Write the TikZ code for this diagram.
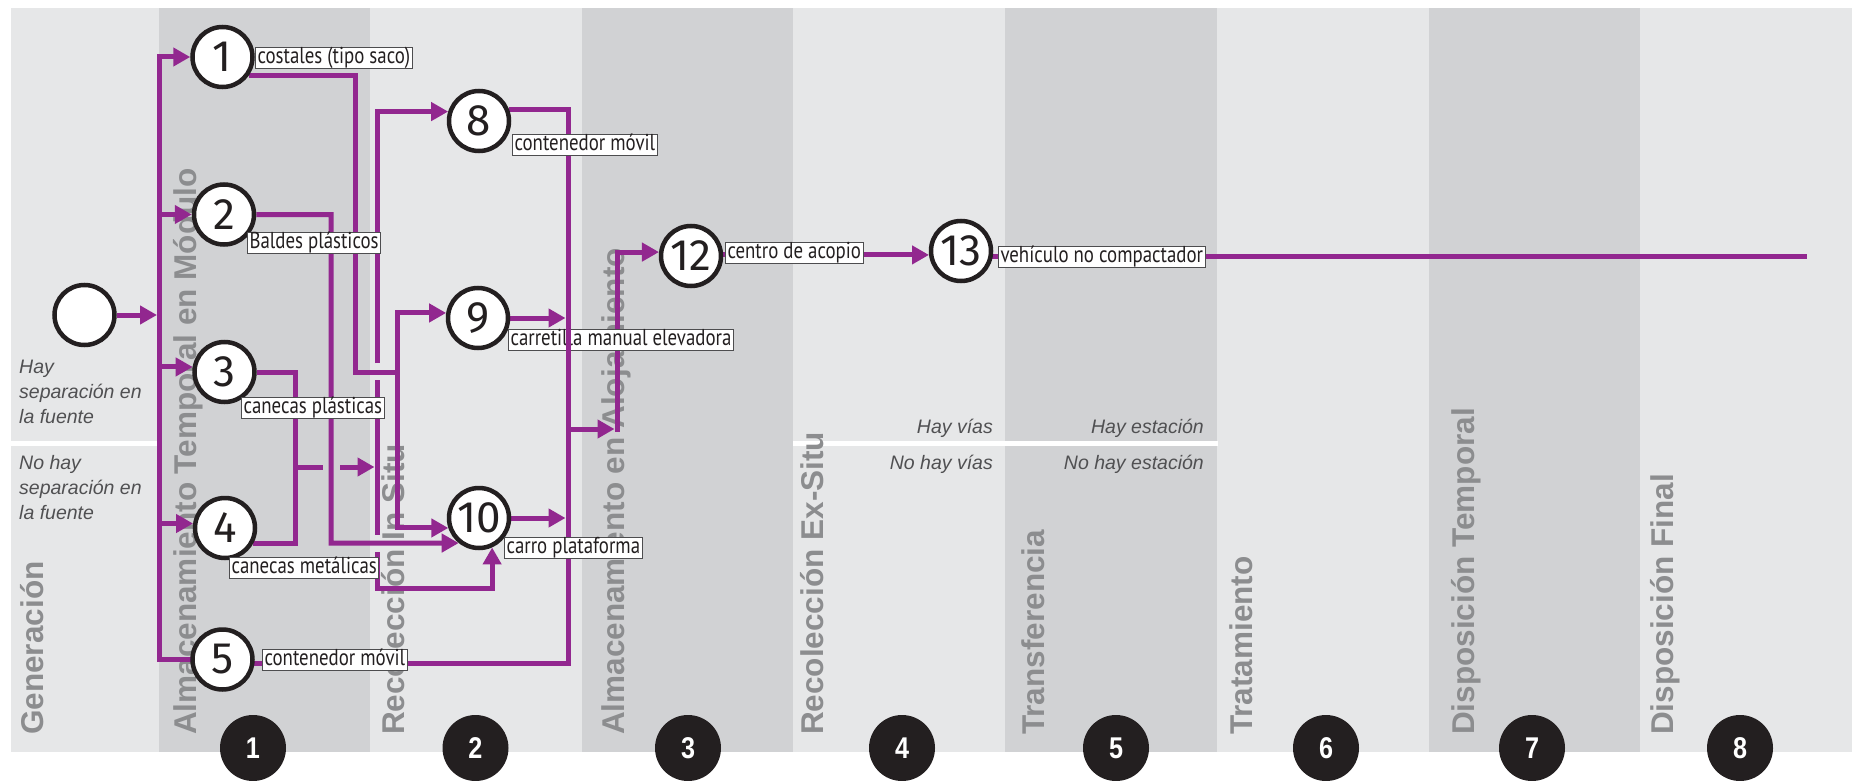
\documentclass[tikz,border=0pt]{standalone}
\usepackage{fontspec}
\setmainfont{Liberation Sans}
\newfontfamily\tagfont{PT Sans}[FakeStretch=0.82]
\newfontfamily\numfont{Fira Sans}
\newfontfamily\badgefont{Liberation Sans}[FakeStretch=0.84]
\usetikzlibrary{arrows.meta}

\definecolor{purp}{HTML}{92278F}
\definecolor{bglight}{HTML}{E6E7E8}
\definecolor{bgdark}{HTML}{D1D2D4}
\definecolor{colgray}{HTML}{8C8D8F}
\definecolor{annot}{HTML}{505052}
\definecolor{ink}{HTML}{231F20}
\definecolor{tagline}{HTML}{4D4D4F}

\pgfdeclarelayer{back}
\pgfdeclarelayer{wires}
\pgfdeclarelayer{tags}
\pgfdeclarelayer{over}
\pgfsetlayers{back,wires,main,tags,over}

\tikzset{
  flow/.style={draw=purp, line width=5pt},
  arr/.style={flow, -{Triangle[length=17pt,width=18pt]}},
  stage/.style={circle, draw=ink, fill=white, line width=4.5pt, minimum size=60pt,
    inner sep=0pt, text=ink, font=\numfont\fontsize{44}{44}\selectfont},
  tag/.style={draw=tagline, fill=white, line width=1pt, inner xsep=2pt, inner ysep=1pt,
    anchor=west, text height=15pt, text depth=4pt, text=ink,
    font=\tagfont\fontsize{23}{23}\selectfont},
  phase/.style={rotate=90, anchor=base west, inner sep=0pt, text=colgray,
    font=\fontsize{31.5}{31.5}\selectfont\bfseries},
  note/.style={inner sep=0pt, text=annot, font=\fontsize{19.5}{19.5}\selectfont\itshape},
  badge/.style={circle, fill=ink, minimum size=66pt, inner sep=0pt, text=white,
    font=\badgefont\bfseries\fontsize{30}{30}\selectfont},
}

\begin{document}
\begin{tikzpicture}[x=1pt, y=-1pt]
\useasboundingbox (0,0) rectangle (1857,781);

% ---------- stage columns ----------
\begin{pgfonlayer}{back}
\foreach \a/\b/\c in {11/159/bglight, 159/370/bgdark, 370/582/bglight, 582/793/bgdark,
                      793/1005/bglight, 1005/1217/bgdark, 1217/1429/bglight,
                      1429/1640/bgdark, 1640/1852/bglight}
  \fill[\c] (\a,8) rectangle (\b,752);
% split lines between the two cases
\fill[white] (11,440.5) rectangle (157,445.5);
\fill[white] (793,440.5) rectangle (1218,445.5);

% column titles
\node[phase] (p0) at (43,735)   {Generación};
\node[phase] (p1) at (196,735)  {Almacenamiento Temporal en Módulo};
\node[phase] (p2) at (404,735)  {Recolección In Situ};
\node[phase] (p3) at (624,735)  {Almacenamiento en Alojamiento};
\node[phase] (p4) at (823,735)  {Recolección Ex-Situ};
\node[phase] (p5) at (1044,735) {Transferencia};
\node[phase] (p6) at (1252,735) {Tratamiento};
\node[phase] (p7) at (1474,735) {Disposición Temporal};
\node[phase] (p8) at (1673,735) {Disposición Final};

% case notes
\node[note, anchor=base west] (h1) at (19,373) {Hay};
\node[note, anchor=base west] (h2) at (19,398) {separación en};
\node[note, anchor=base west] (h3) at (19,423) {la fuente};
\node[note, anchor=base west] (k1) at (19,469) {No hay};
\node[note, anchor=base west] (k2) at (19,494) {separación en};
\node[note, anchor=base west] (k3) at (19,519) {la fuente};
\node[note, anchor=base east] (v1) at (993,433)  {Hay vías};
\node[note, anchor=base east] (v2) at (993,469)  {No hay vías};
\node[note, anchor=base east] (s1) at (1204,433) {Hay estación};
\node[note, anchor=base east] (s2) at (1204,469) {No hay estación};
\end{pgfonlayer}

% ---------- stages ----------
\node[stage] (n0)  at (84.5,315) {};
\node[stage] (n1)  at (222.5,57) {1};
\node[stage] (n2)  at (224,214.5) {2};
\node[stage] (n3)  at (224.5,372) {3};
\node[stage] (n4)  at (225,528) {4};
\node[stage] (n5)  at (222.5,659.5) {5};
\node[stage] (n8)  at (479,121) {8};
\node[stage] (n9)  at (478,318) {9};
\node[stage] (n10) at (479,518) {10};
\node[stage] (n12) at (691,256) {12};
\node[stage] (n13) at (961,251) {13};

% phase numbers
\foreach \x/\k in {253/1, 475.5/2, 688/3, 902/4, 1116/5, 1326/6, 1532/7, 1740/8}
  \node[badge] (b\k) at (\x,748) {\k};

% ---------- equipment tags ----------
\begin{pgfonlayer}{tags}
\node[tag] (t1)  at (255,58.5)  {costales (tipo saco)};
\node[tag] (t2)  at (247,243)   {Baldes plásticos};
\node[tag] (t3)  at (241,407.5) {canecas plásticas};
\node[tag] (t4)  at (229,567.5) {canecas metálicas};
\node[tag] (t5)  at (262,659.5) {contenedor móvil};
\node[tag] (t8)  at (512,145)   {contenedor móvil};
\node[tag] (t9)  at (508,340)   {carretilla manual elevadora};
\node[tag] (t10) at (504,547.5) {carro plataforma};
\node[tag] (t12) at (725,253)   {centro de acopio};
\node[tag] (t13) at (998,256.5) {vehículo no compactador};
\end{pgfonlayer}

% ---------- flows ----------
\coordinate (a1) at (159,57);
\coordinate (j0) at (157,315);
\coordinate (b1) at (355,372);
\coordinate (b2) at (397,372);
\coordinate (c1) at (331,543);
\coordinate (m)  at (295,467);
\coordinate (m2) at (323,467);
\coordinate (m3) at (340,467);
\coordinate (d0) at (374.5,467);
\coordinate (d1) at (377,363);
\coordinate (d2) at (377,380);
\coordinate (d3) at (377,535);
\coordinate (d4) at (377,552);
\coordinate (d5) at (377,588);
\coordinate (e0) at (565.5,0);
\coordinate (e1) at (568,663);
\coordinate (f1) at (568,429);
\coordinate (f2) at (614.5,429);
\coordinate (f3) at (617,431.5);
\coordinate (fin) at (1807,256);

\begin{pgfonlayer}{wires}
% generation into temporary storage
\draw[arr] (n0.east) -- (j0);
\draw[arr] (n5.center) -| (a1) -- (n1.west);
\draw[arr] (n2.west -| a1) -- (n2.west);
\draw[arr] (n3.171 -| a1) -- (n3.171);
\draw[arr] (n4.172 -| a1) -- (n4.172);

% storage 1 to collection 9 and 10
\draw[flow] (n1.-36) -| (b1) -- (b2);
\draw[arr] (b2) |- (n9.171);
\draw[arr] (b2) |- (n10.198);

% storage 2 to collection 10
\draw[arr] (n2.east) -| (c1) -- (n10.231);

% storage 3 and 4 to collection 8 and 10
\draw[flow] (n3.east) -| (m);
\draw[flow] (n4.-28) -| (m);
\draw[flow] (m) -- (m2);
\draw[arr] (m3) -- (d0);
\draw[arr] (d1) |- (n8.163);
\draw[flow] (d2) -- (d3);
\draw[arr] (d4) -- (d5) -| (n10.-66);

% collection to lodging storage
\draw[flow] (n8.20) -| (e1) -- (n5.center |- e1);
\draw[arr] (n9.east) -- (n9.east -| e0);
\draw[arr] (n10.east) -- (n10.east -| e0);
\draw[arr] (f1) -- (f2);
\draw[arr] (f3) |- (n12.173);

% ex-situ collection onwards
\draw[arr] (n12.center |- n13.187) -- (n13.187);
\draw[flow] (n13.center |- fin) -- (fin);
\end{pgfonlayer}

% the lodging trunk runs across the handcart tag
\begin{pgfonlayer}{over}
\draw[flow] (t9.north -| e1) -- (t9.south -| e1);
\end{pgfonlayer}
\end{tikzpicture}
\end{document}
